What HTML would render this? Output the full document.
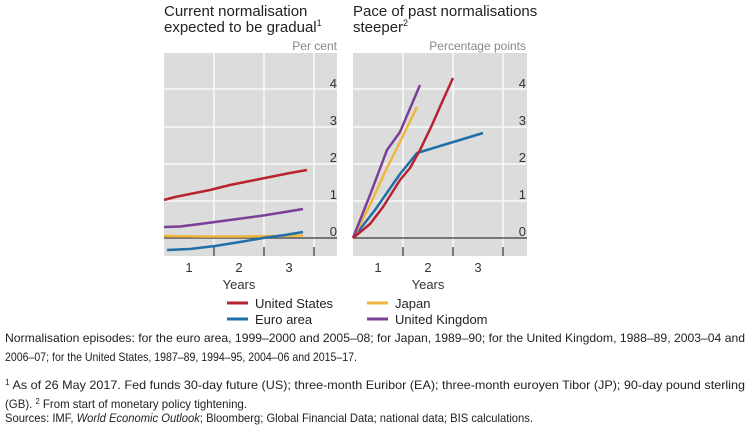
<!DOCTYPE html>
<html><head><meta charset="utf-8"><style>
html,body{margin:0;padding:0;background:#fff;}
svg{display:block;font-family:"Liberation Sans",sans-serif;}
</style></head><body>
<svg width="749" height="426" viewBox="0 0 749 426">
<!-- titles -->
<g font-size="15" fill="#222">
<text x="164" y="16">Current normalisation</text>
<text x="164" y="32">expected to be gradual<tspan font-size="9" dy="-6">1</tspan></text>
<text x="353" y="16">Pace of past normalisations</text>
<text x="353" y="32">steeper<tspan font-size="9" dy="-6">2</tspan></text>
</g>
<g font-size="12" fill="#888" text-anchor="end">
<text x="337" y="50">Per cent</text>
<text x="526" y="50">Percentage points</text>
</g>
<!-- panels -->
<rect x="164" y="53" width="173" height="203" fill="#dcdcdc"/>
<rect x="353" y="53" width="174" height="203" fill="#dcdcdc"/>
<g stroke="#fff" stroke-width="1.3">
<line x1="164" x2="337" y1="89" y2="89"/><line x1="164" x2="337" y1="127" y2="127"/><line x1="164" x2="337" y1="164" y2="164"/><line x1="164" x2="337" y1="201" y2="201"/>
<line x1="353" x2="527" y1="89" y2="89"/><line x1="353" x2="527" y1="127" y2="127"/><line x1="353" x2="527" y1="164" y2="164"/><line x1="353" x2="527" y1="201" y2="201"/>
<line x1="214" x2="214" y1="53" y2="256"/><line x1="264" x2="264" y1="53" y2="256"/><line x1="314" x2="314" y1="53" y2="256"/>
<line x1="403" x2="403" y1="53" y2="256"/><line x1="453" x2="453" y1="53" y2="256"/><line x1="503" x2="503" y1="53" y2="256"/>
</g>
<g stroke="#555" stroke-width="1.5">
<line x1="164" x2="337" y1="238" y2="238"/><line x1="353" x2="527" y1="238" y2="238"/>
<line x1="214" x2="214" y1="247" y2="256"/><line x1="264" x2="264" y1="247" y2="256"/><line x1="314" x2="314" y1="247" y2="256"/>
<line x1="403" x2="403" y1="247" y2="256"/><line x1="453" x2="453" y1="247" y2="256"/><line x1="503" x2="503" y1="247" y2="256"/>
</g>
<g font-size="13" fill="#333" text-anchor="end">
<text x="337" y="88">4</text><text x="337" y="125">3</text><text x="337" y="162">2</text><text x="337" y="199">1</text><text x="337" y="236">0</text>
<text x="526" y="88">4</text><text x="526" y="125">3</text><text x="526" y="162">2</text><text x="526" y="199">1</text><text x="526" y="236">0</text>
</g>
<g font-size="13" fill="#333" text-anchor="middle">
<text x="189" y="272">1</text><text x="239" y="272">2</text><text x="289" y="272">3</text>
<text x="378" y="272">1</text><text x="428" y="272">2</text><text x="478" y="272">3</text>
<text x="239" y="289">Years</text><text x="428" y="289">Years</text>
</g>
<!-- left series -->
<g fill="none" stroke-width="2.5" stroke-linejoin="round">
<polyline stroke="#f0b63c" points="164,236 200,236.5 250,236.5 303,235.5"/>
<polyline stroke="#1f6fa8" points="167,250 190,249 215,246 240,242 263,238 285,235 303,232"/>
<polyline stroke="#7a3f96" points="164,227 180,226.5 200,224 230,220 260,216 285,212 303,209"/>
<polyline stroke="#b8232f" points="164,200 175,197 190,194 210,190 230,185 250,181 270,177 290,173 307,170"/>
</g>
<!-- right series -->
<g fill="none" stroke-width="2.5" stroke-linejoin="round">
<polyline stroke="#1f6fa8" points="353,238 375,210 400,174 417,153 483,133"/>
<polyline stroke="#f0b63c" points="353,238 370,205 385,172 400,142 417,107"/>
<polyline stroke="#7a3f96" points="353,238 370,195 387,150 400,132 420,85"/>
<polyline stroke="#b8232f" points="353,238 370,224 383,207 400,180 410,168 420,150 432,125 443,100 453,78"/>
</g>
<!-- legend -->
<g stroke-width="3">
<line x1="227" x2="248" y1="303" y2="303" stroke="#b8232f"/>
<line x1="227" x2="248" y1="319" y2="319" stroke="#1f6fa8"/>
<line x1="367" x2="388" y1="303" y2="303" stroke="#f0b63c"/>
<line x1="367" x2="388" y1="319" y2="319" stroke="#7a3f96"/>
</g>
<g font-size="13" fill="#222">
<text x="255" y="308">United States</text><text x="255" y="324">Euro area</text>
<text x="395" y="308">Japan</text><text x="395" y="324">United Kingdom</text>
</g>
<!-- notes -->
<g font-size="12" fill="#222">
<text x="5" y="342" textLength="740" lengthAdjust="spacingAndGlyphs">Normalisation episodes: for the euro area, 1999–2000 and 2005–08; for Japan, 1989–90; for the United Kingdom, 1988–89, 2003–04 and</text>
<text x="5" y="361" textLength="352" lengthAdjust="spacingAndGlyphs">2006–07; for the United States, 1987–89, 1994–95, 2004–06 and 2015–17.</text>
<text x="5" y="389" textLength="740" lengthAdjust="spacingAndGlyphs"><tspan font-size="8" dy="-4">1</tspan><tspan dy="4">  As of 26 May 2017. Fed funds 30-day future (US); three-month Euribor (EA); three-month euroyen Tibor (JP); 90-day pound sterling</tspan></text>
<text x="5" y="408" textLength="242" lengthAdjust="spacingAndGlyphs">(GB).  <tspan font-size="8" dy="-4">2</tspan><tspan dy="4">  From start of monetary policy tightening.</tspan></text>
<text x="5" y="422" textLength="528" lengthAdjust="spacingAndGlyphs">Sources: IMF, <tspan font-style="italic">World Economic Outlook</tspan>; Bloomberg; Global Financial Data; national data; BIS calculations.</text>
</g>
</svg>
</body></html>
